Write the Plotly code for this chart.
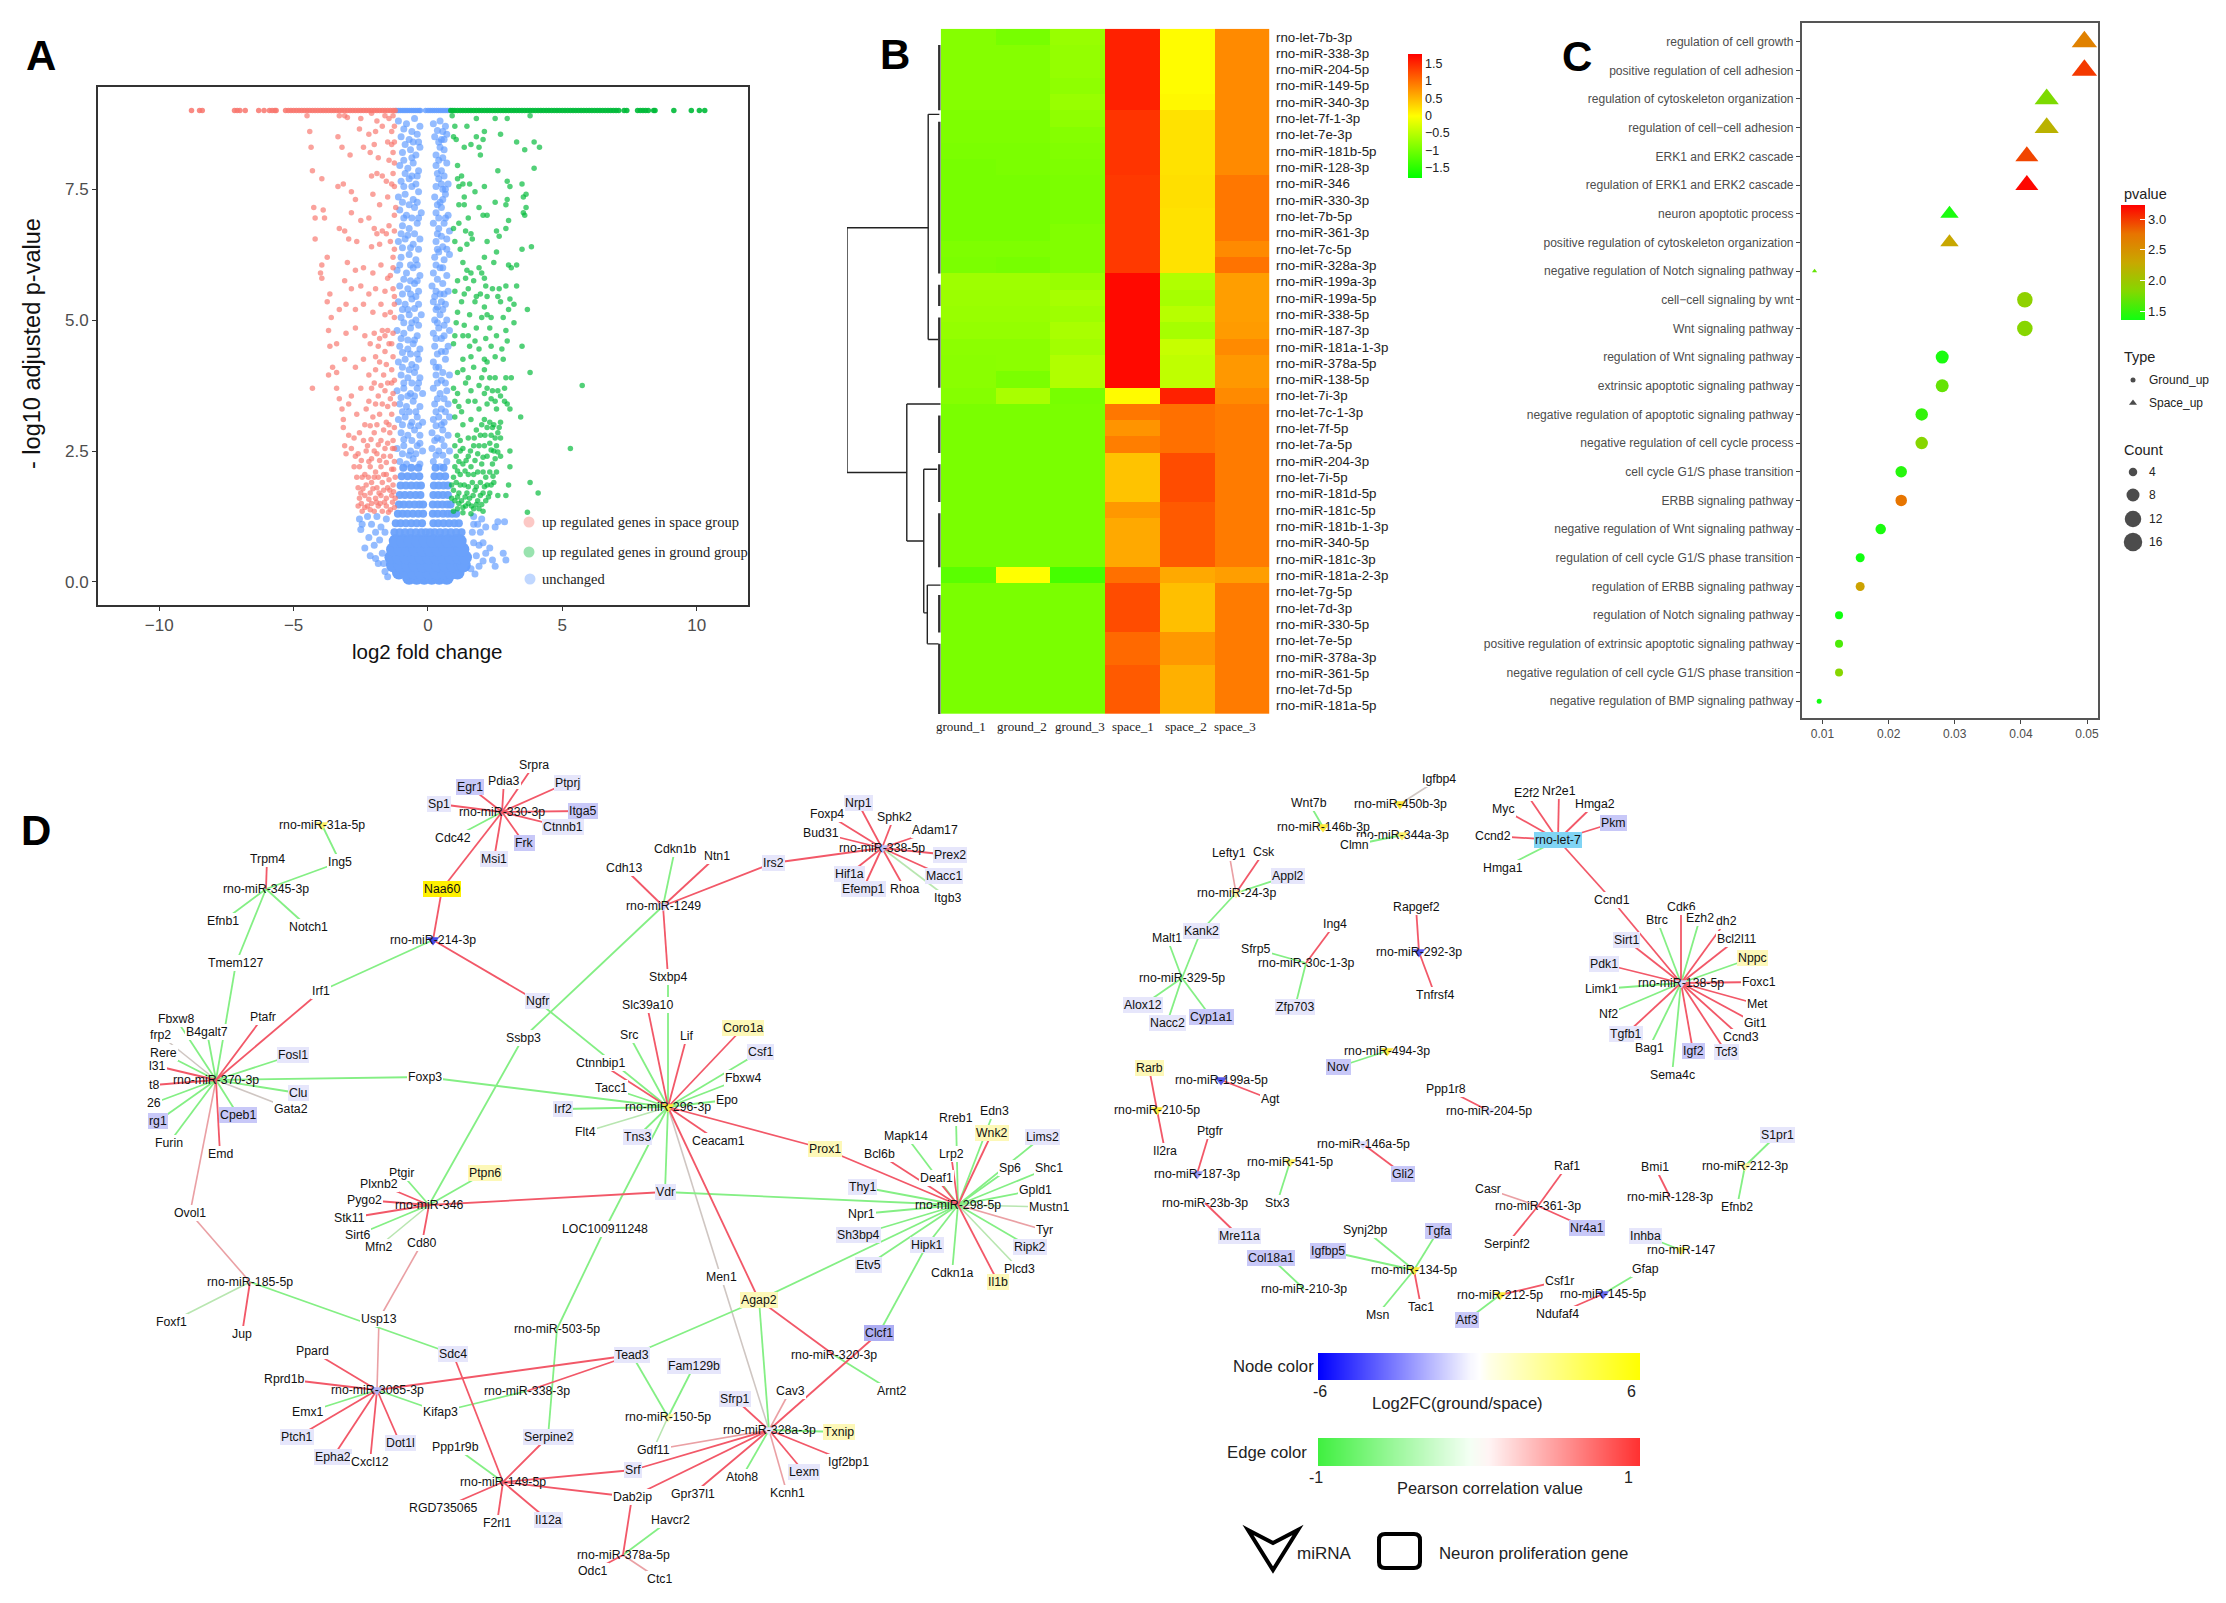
import plotly.graph_objects as go

W, H = 2226, 1603

# ---------- Panel A: volcano ----------
top_space_x = [-8.8,-8.5,-8.4,-7.2,-7.1,-7.0,-6.8,-6.3,-6.1,-5.9,-5.8,-5.7,-5.65,-5.3,-5.2,-5.1,-5.0,-4.9,-4.8,-4.7,-4.6,-4.5,-4.4,-4.3,-4.2,-4.1,-4.0,-3.9,-3.8,-3.7,-3.6,-3.5,-3.4,-3.3,-3.2,-3.1,-3.0,-2.9,-2.8,-2.7,-2.6,-2.5,-2.4,-2.3,-2.2,-2.1,-2.0,-1.9,-1.8,-1.7,-1.6,-1.5,-1.4,-1.3,-1.22]
top_ground_x = [0.85,0.92,1.0,1.1,1.2,1.3,1.4,1.5,1.6,1.7,1.8,1.9,2.0,2.1,2.2,2.3,2.4,2.5,2.6,2.7,2.8,2.9,3.0,3.1,3.2,3.3,3.4,3.5,3.6,3.7,3.8,3.9,4.0,4.1,4.2,4.3,4.4,4.5,4.6,4.7,4.8,4.9,5.0,5.1,5.2,5.3,5.4,5.5,5.6,5.7,5.8,5.9,6.0,6.1,6.2,6.3,6.4,6.5,6.6,6.7,6.8,6.9,7.0,7.1,7.3,7.4,7.8,7.9,8.0,8.1,8.2,8.4,8.45,9.15,9.8,10.1,10.3]
top_unch_x = [-1.17,-1.1,-1.03,-0.96,-0.89,-0.82,-0.75,-0.68,-0.61,-0.54,-0.47,-0.4,-0.33,-0.28,-0.09,0.0,0.08,0.16,0.24,0.32,0.4,0.48,0.56,0.64,0.72,0.8]
top_y = 9.0

space_pts = [
(-4.5,8.9),(-3.3,8.9),(-3.1,8.9),(-3.0,8.87),(-2.5,8.85),(-2.1,8.95),(-1.9,8.8),(-1.6,8.9),(-1.45,8.85),(-1.3,8.9),(-1.25,8.7),(-2.55,8.65),(-2.2,8.55),(-1.95,8.6),(-1.7,8.7),(-1.35,8.6),
(-4.4,8.6),(-4.35,8.3),(-3.35,8.5),(-3.2,8.3),(-2.9,8.15),(-2.4,8.3),(-2.15,8.2),(-2.0,8.35),(-1.85,8.1),(-1.5,8.4),(-1.35,8.35),(-1.3,8.2),(-1.45,8.05),(-1.25,8.0),
(-4.3,7.85),(-3.95,7.7),(-3.35,7.55),(-3.15,7.6),(-2.1,7.75),(-1.9,7.8),(-1.7,7.75),(-1.55,7.65),(-1.3,7.8),(-1.25,7.55),(-2.85,7.45),(-2.7,7.3),(-2.05,7.4),(-1.8,7.2),(-1.5,7.35),(-1.2,7.15),
(-4.25,7.15),(-3.9,7.1),(-4.2,6.95),(-3.85,6.95),(-3.3,6.75),(-3.1,6.7),(-2.85,7.05),(-2.5,6.9),(-2.2,6.95),(-2.0,6.75),(-1.9,6.65),(-1.7,6.7),(-1.55,6.65),(-1.25,6.7),
(-4.2,6.55),(-2.95,6.55),(-2.65,6.5),(-2.1,6.4),(-1.8,6.45),(-1.4,6.5),(-1.25,6.35),
(-3.75,6.2),(-3.95,6.05),(-4.0,5.9),(-3.95,5.8),(-3.0,6.1),(-2.7,5.95),(-2.4,6.0),(-2.05,5.9),(-1.75,6.05),(-1.4,5.85),(-1.3,6.0),
(-3.1,5.75),(-2.85,5.6),(-2.5,5.65),(-2.2,5.5),(-1.95,5.6),(-1.6,5.55),(-1.3,5.6),(-1.25,5.45),
(-3.65,5.5),(-3.75,5.35),(-3.6,5.05),(-3.3,5.2),(-3.05,5.3),(-2.7,5.2),(-2.4,5.3),(-2.05,5.15),(-1.75,5.3),(-1.4,5.15),(-1.25,5.05),
(-3.7,4.8),(-3.65,4.5),(-3.4,4.55),(-3.05,4.75),(-2.7,4.85),(-2.35,4.7),(-2.0,4.75),(-1.7,4.8),(-1.5,4.8),(-1.3,4.75),(-2.15,4.55),(-1.85,4.5),(-1.6,4.4),(-1.45,4.55),
(-3.55,4.1),(-3.4,4.0),(-3.7,3.95),(-3.1,4.25),(-2.7,4.1),(-2.4,4.25),(-2.2,3.95),(-1.95,4.05),(-1.65,3.95),(-1.35,4.05),(-1.25,3.85),(-1.5,3.8),
(-4.3,3.7),(-3.4,3.7),(-3.3,3.5),(-2.85,3.55),(-2.5,3.7),(-2.1,3.7),(-1.85,3.55),(-1.6,3.65),(-1.4,3.5),(-1.25,3.4),
(-3.2,3.3),(-3.15,3.1),(-2.95,3.4),(-2.65,3.2),(-2.3,3.3),(-2.05,3.15),(-1.8,3.2),(-1.55,3.05),(-1.35,3.2),(-1.25,2.95),
(-3.15,2.95),(-2.95,2.8),(-3.1,2.6),(-2.75,2.75),(-2.55,2.85),(-2.25,2.6),(-2.0,2.85),(-1.75,2.7),(-1.5,2.65),(-1.3,2.7),
(-3.05,2.45),(-2.85,2.55),(-2.6,2.45),(-2.3,2.5),(-2.1,2.35),(-1.9,2.45),(-1.65,2.4),(-1.4,2.4),(-1.25,2.3),
(-2.75,2.2),(-2.55,2.2),(-2.35,2.05),(-2.15,2.2),(-1.95,2.1),(-1.75,2.2),(-1.55,2.05),(-1.35,2.15),(-1.22,2.0),(-2.65,2.0),
(-2.6,1.8),(-2.5,1.7),(-2.3,1.85),(-2.1,1.9),(-1.9,1.8),(-1.7,1.9),(-1.5,1.8),(-1.3,1.85),(-2.55,1.6),(-2.35,1.65),(-2.15,1.7),(-1.95,1.6),(-1.75,1.65),(-1.55,1.6),(-1.35,1.65),(-1.22,1.6),
(-2.6,1.45),(-2.45,1.35),(-2.25,1.45),(-2.1,1.5),(-2.0,1.35),(-1.85,1.45),(-1.7,1.35),(-1.55,1.45),(-1.4,1.38),(-1.25,1.42),
(-2.48,1.5),(-2.35,1.42),(-2.15,1.38),(-1.92,1.52),(-1.78,1.5),(-1.62,1.52),(-1.47,1.33),(-1.32,1.52),(-2.42,1.78),(-2.2,1.58),(-2.05,1.78),(-1.82,1.7),(-1.65,1.75),(-1.42,1.75),(-1.28,1.72),(-2.45,2.0),(-2.22,2.0),(-2.0,2.0),(-1.85,2.0),(-1.65,2.05),(-1.45,1.95),(-1.28,2.15),
(-2.48,2.32),(-2.2,2.3),(-2.0,2.5),(-1.8,2.32),(-1.55,2.28),(-1.32,2.55),(-2.7,2.4),(-2.4,2.7),(-2.12,2.72),(-1.85,2.62),(-1.6,2.55),(-1.42,2.85),(-1.25,2.55),(-2.35,3.0),(-2.15,2.98),(-1.9,3.0),(-1.65,2.9),(-1.45,3.0),
(-2.2,3.45),(-1.95,3.4),(-1.7,3.4),(-1.5,3.35),(-1.3,3.6),(-2.0,3.8),(-1.75,3.75),(-1.35,3.8),(-1.55,4.15),(-1.8,4.2),(-1.3,4.3),(-1.95,4.3),(-1.6,4.7),(-1.8,4.65),(-1.35,4.55),(-1.6,5.1),(-1.25,5.3),(-1.5,5.8),(-1.3,6.2),(-1.45,6.8),(-1.25,7.0),(-1.35,7.6),(-1.25,8.4),
]
ground_pts = [
(0.9,8.9),(1.8,8.85),(2.5,8.85),(2.95,8.85),(3.8,8.9),(1.0,8.7),(0.95,8.5),(1.45,8.7),(2.1,8.6),(2.7,8.55),(1.05,8.45),(1.8,8.5),(2.05,8.45),(3.3,8.4),
(3.95,8.4),(4.15,8.3),(1.35,8.3),(1.6,8.35),(1.9,8.3),(1.95,8.15),(3.6,8.25),(3.95,7.9),(1.1,7.95),(1.1,7.7),(1.25,7.75),(2.6,7.85),(2.95,7.65),(1.3,7.6),(1.15,7.55),(1.55,7.6),(2.1,7.55),
(3.05,7.55),(3.5,7.6),(1.35,7.35),(1.75,7.45),(2.5,7.25),(2.95,7.3),(3.55,7.35),(3.65,7.4),(1.15,7.2),(1.35,7.2),(1.9,7.15),(2.9,7.2),(3.65,7.15),
(1.5,6.95),(2.05,7.0),(2.2,7.0),(3.0,6.9),(3.55,7.05),(3.6,7.0),(0.95,6.75),(1.15,6.85),(1.4,6.7),(1.6,6.65),(2.55,6.7),(2.9,6.75),(1.0,6.5),(1.45,6.45),(1.65,6.55),(2.2,6.5),(2.65,6.6),
(3.5,6.35),(3.85,6.4),(1.2,6.35),(2.1,6.2),(2.55,6.3),(3.0,6.05),(3.1,6.0),(3.3,6.05),(1.3,6.1),(1.45,5.95),(1.9,6.0),(2.0,5.9),(2.45,6.1),(1.1,5.75),(1.4,5.8),(1.7,5.75),(2.1,5.8),(2.15,5.65),
(1.0,5.55),(1.5,5.6),(1.95,5.5),(2.2,5.45),(2.65,5.6),(2.9,5.65),(3.3,5.65),(1.25,5.35),(1.75,5.35),(2.1,5.25),(2.6,5.45),(3.05,5.4),(3.2,5.3),(1.1,5.15),(1.55,5.1),(2.2,5.1),(2.35,5.05),(3.0,5.2),(3.7,5.2),
(1.05,4.95),(1.35,4.9),(1.8,4.85),(2.3,4.85),(2.8,5.05),(3.2,4.95),(1.0,4.7),(1.5,4.7),(2.15,4.65),(2.55,4.7),(2.9,4.8),(0.95,4.55),(1.55,4.5),(1.9,4.45),(2.35,4.5),(2.75,4.45),(3.5,4.5),
(1.3,4.25),(2.1,4.25),(2.5,4.3),(2.8,4.25),(1.3,4.05),(1.7,4.1),(2.1,4.05),(2.0,3.9),(3.8,4.0),(1.5,3.9),(1.9,3.75),(2.5,3.9),(2.9,3.9),(3.1,3.9),(5.74,3.75),
(0.95,3.7),(1.1,3.6),(1.6,3.65),(2.2,3.7),(2.6,3.65),(2.85,3.7),(1.0,3.45),(1.5,3.45),(2.35,3.5),(2.7,3.55),(2.85,3.45),(2.95,3.4),(1.25,3.25),(1.9,3.3),(2.55,3.3),(3.05,3.3),(3.45,3.15),
(1.0,3.15),(1.6,3.1),(2.1,3.1),(2.3,3.05),(2.7,3.05),(1.3,3.0),(1.8,2.9),(2.2,2.95),(2.45,3.0),(2.6,2.85),(1.1,2.8),(1.5,2.75),(1.95,2.8),(2.35,2.8),(2.7,2.75),(5.3,2.55),
(1.0,2.6),(1.3,2.55),(1.7,2.6),(2.1,2.6),(2.3,2.65),(2.55,2.6),(2.7,2.4),(1.05,2.4),(1.5,2.4),(1.85,2.45),(2.2,2.4),(2.5,2.35),(3.05,2.5),(1.0,2.2),(1.3,2.25),(1.6,2.2),(2.0,2.25),(2.4,2.25),(3.05,2.2),
(0.95,2.0),(1.2,2.05),(1.5,2.05),(1.85,2.1),(2.15,2.0),(2.3,2.1),(2.55,2.1),(1.05,1.9),(1.35,1.85),(1.65,1.9),(1.95,1.9),(2.2,1.85),(2.45,1.9),(3.0,1.85),(3.8,1.9),
(0.95,1.75),(1.15,1.7),(1.45,1.7),(1.75,1.75),(2.05,1.7),(2.3,1.7),(2.9,1.65),(4.1,1.7),(1.0,1.55),(1.25,1.55),(1.55,1.6),(1.85,1.55),(2.15,1.55),(2.6,1.65),(1.1,1.4),(1.4,1.45),(1.7,1.4),(1.9,1.4),(2.05,1.35),(0.95,1.35),(1.3,1.32),(1.6,1.3),(3.7,1.33),
(1.15,1.5),(1.3,1.42),(1.5,1.5),(1.62,1.45),(1.8,1.48),(2.0,1.48),(0.88,1.6),(1.1,1.62),(1.38,1.62),(1.68,1.65),(1.95,1.65),(2.25,1.62),(0.88,1.85),(1.2,1.85),(1.5,1.82),(1.8,1.82),(2.1,1.82),(2.35,1.85),
(1.1,2.12),(1.38,2.12),(1.7,2.05),(2.05,2.1),(2.42,2.02),(1.15,2.3),(1.42,2.32),(1.75,2.32),(2.05,2.38),(2.35,2.52),(1.2,2.5),(1.58,2.5),(1.9,2.6),(2.45,2.5),(2.6,2.48),(1.2,2.7),(1.72,2.75),(2.12,2.8),(2.5,2.75),(2.4,2.95),(2.65,2.95),(2.0,3.0),
(1.15,3.35),(1.75,3.45),(2.2,3.4),(2.5,3.45),(2.1,3.6),(2.4,3.65),(1.4,3.8),(2.3,3.9),(1.1,4.0),(2.2,4.2),(1.6,4.3),(2.95,4.6),(1.75,4.6),(1.3,4.7),(2.0,5.05),(1.35,5.5),(1.8,5.45),(2.4,5.6),(1.6,5.9),(2.7,5.35),
]
unch_pts = [
(-1.1,8.8),(-0.8,8.75),(-0.5,8.85),(-0.3,8.7),(0.2,8.75),(0.45,8.8),(0.65,8.7),(-1.0,8.5),(-0.7,8.45),(-0.4,8.55),(0.25,8.5),(0.5,8.45),(0.7,8.55),
(-0.95,8.2),(-0.65,8.25),(-0.45,8.15),(-0.3,8.3),(0.3,8.15),(0.45,8.3),(0.6,8.25),(-1.05,7.95),(-0.75,7.9),(-0.55,8.0),(-0.35,7.85),(0.3,7.95),(0.5,7.85),(0.7,8.0),
(-1.0,7.65),(-0.7,7.7),(-0.45,7.6),(0.3,7.55),(0.4,7.7),(0.55,7.5),(0.75,7.6),(-1.1,7.35),(-0.85,7.4),(-0.55,7.3),(-0.35,7.45),(0.25,7.35),(0.45,7.25),(0.65,7.4),
(-1.05,7.1),(-0.8,7.0),(-0.5,7.15),(-0.25,7.05),(0.3,7.05),(0.5,7.15),(0.75,7.0),(-0.95,6.8),(-0.7,6.75),(-0.4,6.85),(0.2,6.85),(0.4,6.75),(0.6,6.85),(0.8,6.7),
(-1.1,6.5),(-0.85,6.55),(-0.55,6.45),(-0.3,6.55),(0.3,6.5),(0.55,6.4),(0.7,6.55),(-1.0,6.2),(-0.7,6.25),(-0.45,6.15),(0.25,6.2),(0.4,6.3),(0.6,6.15),(0.8,6.25),
(-1.15,5.95),(-0.8,5.9),(-0.55,6.0),(-0.3,5.85),(0.2,5.9),(0.45,6.0),(0.7,5.85),(-1.05,5.65),(-0.75,5.6),(-0.5,5.7),(-0.35,5.55),(0.15,5.65),(0.3,5.55),(0.55,5.7),(0.75,5.55),
(-1.1,5.35),(-0.85,5.3),(-0.6,5.4),(-0.35,5.3),(0.2,5.35),(0.35,5.25),(0.5,5.35),(0.65,5.3),(-1.0,5.05),(-0.7,5.1),(-0.45,5.0),(-0.25,5.1),(0.25,5.0),(0.45,5.1),(0.7,5.0),
(-1.15,4.8),(-0.9,4.75),(-0.65,4.85),(-0.4,4.7),(0.2,4.75),(0.4,4.85),(0.6,4.7),(0.8,4.8),(-1.05,4.5),(-0.75,4.45),(-0.55,4.55),(-0.3,4.45),(0.25,4.5),(0.5,4.4),(0.75,4.5),
(-1.1,4.2),(-0.85,4.25),(-0.6,4.15),(-0.35,4.25),(0.2,4.2),(0.4,4.1),(0.65,4.25),(-1.0,3.95),(-0.75,3.9),(-0.5,4.0),(-0.3,3.9),(0.3,3.95),(0.5,3.85),(0.8,3.95),
(-1.15,3.65),(-0.9,3.7),(-0.65,3.6),(-0.4,3.7),(-0.2,3.6),(0.2,3.7),(0.45,3.6),(0.7,3.65),(-1.05,3.4),(-0.8,3.35),(-0.55,3.45),(-0.3,3.35),(0.25,3.4),(0.5,3.3),(0.75,3.4),
(-1.1,3.1),(-0.85,3.15),(-0.6,3.05),(-0.4,3.15),(-0.2,3.05),(0.2,3.1),(0.4,3.15),(0.6,3.05),(0.8,3.15),(-1.0,2.85),(-0.75,2.8),(-0.5,2.9),(-0.3,2.8),(0.15,2.85),(0.35,2.75),(0.55,2.9),(0.75,2.8),
(-1.15,2.55),(-0.9,2.6),(-0.65,2.5),(-0.4,2.6),(-0.2,2.5),(0.15,2.55),(0.4,2.5),(0.6,2.6),(0.8,2.5),(-1.05,2.3),(-0.8,2.25),(-0.55,2.35),(-0.3,2.25),(0.2,2.3),(0.45,2.2),(0.7,2.3),
(-0.9,8.65),(-0.6,8.6),(-0.35,8.4),(0.35,8.62),(0.55,8.6),(0.4,8.4),(-0.85,8.35),(-0.55,8.4),(0.6,8.45),(-0.9,8.05),(-0.6,8.1),(0.4,8.05),(0.55,8.1),(-0.85,7.8),(-0.6,7.75),(-0.4,7.75),(0.35,7.8),(0.6,7.75),
(-0.9,7.55),(-0.6,7.55),(0.5,7.6),(0.65,7.5),(-0.95,7.25),(-0.7,7.2),(-0.4,7.25),(0.35,7.2),(0.55,7.3),(-0.9,6.95),(-0.6,6.95),(-0.35,6.95),(0.4,6.95),(0.65,6.95),(-1.0,6.65),(-0.75,6.62),(-0.5,6.65),(0.35,6.65),(0.5,6.6),
(-0.95,6.38),(-0.65,6.38),(-0.35,6.35),(0.35,6.35),(0.7,6.35),(-1.05,6.05),(-0.65,6.05),(-0.4,6.05),(0.3,6.05),(0.55,6.0),(-0.9,5.78),(-0.65,5.75),(-0.4,5.75),(0.35,5.78),(0.45,5.5),(-0.95,5.5),(-0.65,5.5),(-0.45,5.45),(0.25,5.45),(0.6,5.5),
(-0.95,5.2),(-0.75,5.2),(-0.5,5.22),(0.3,5.2),(0.55,5.2),(-0.9,4.95),(-0.6,4.95),(-0.35,4.9),(0.35,4.95),(0.6,4.9),(-1.0,4.65),(-0.75,4.62),(-0.5,4.62),(0.3,4.65),(0.5,4.65),(-0.95,4.38),(-0.65,4.35),(-0.4,4.35),(0.35,4.35),(0.65,4.4),
(-0.95,4.1),(-0.7,4.05),(-0.45,4.1),(0.3,4.1),(0.55,4.0),(-0.9,3.8),(-0.6,3.8),(-0.35,3.8),(0.35,3.8),(0.65,3.8),(-1.0,3.52),(-0.75,3.55),(-0.5,3.55),(0.35,3.5),(0.6,3.5),(-0.95,3.25),(-0.7,3.25),(-0.45,3.25),(0.3,3.25),(0.65,3.25),
(-0.95,3.0),(-0.65,2.98),(-0.35,2.98),(0.3,2.98),(0.5,3.0),(-0.9,2.72),(-0.6,2.7),(-0.3,2.65),(0.25,2.7),(0.5,2.72),(-0.95,2.45),(-0.7,2.42),(-0.45,2.45),(0.3,2.42),(0.55,2.42),
(-2.55,1.2),(-2.45,1.1),(-2.5,1.0),(-2.2,0.85),(-2.35,0.65),(-2.0,0.7),(-1.9,1.25),(-1.75,1.05),(-1.7,0.55),(-1.95,0.45),(-1.85,0.35),
(2.0,1.2),(2.15,1.05),(1.95,0.95),(2.5,1.05),(2.6,1.15),(2.85,1.15),(2.8,0.55),(2.4,0.42),(2.9,0.42),(2.5,0.3),(2.3,0.65),(2.15,0.55),(2.05,0.75),(1.9,0.3),(1.75,0.15),(1.8,0.5),(-1.6,0.2),(-1.5,0.1),
(-2.25,1.25),(-2.1,1.1),(-1.95,0.95),(-1.8,0.8),(-2.15,0.5),(-1.6,0.95),(-1.55,1.2),(-1.65,0.35),(1.7,1.25),(1.85,1.1),(1.65,0.95),(1.9,0.7),(1.7,0.75),(2.05,0.4),(1.6,0.25),(1.7,1.1),
]
core_pts = [
(-0.7,0.08),(-0.42,0.08),(-0.14,0.08),(0.14,0.08),(0.42,0.08),(0.7,0.08),
(-1.08,0.18),(-0.8,0.18),(-0.52,0.18),(-0.24,0.18),(0.04,0.18),(0.32,0.18),(0.6,0.18),(0.88,0.18),(1.1,0.18),
(-1.3,0.32),(-1.02,0.32),(-0.74,0.32),(-0.46,0.32),(-0.18,0.32),(0.1,0.32),(0.38,0.32),(0.66,0.32),(0.94,0.32),(1.22,0.32),(1.33,0.32),
(-1.36,0.47),(-1.08,0.47),(-0.8,0.47),(-0.52,0.47),(-0.24,0.47),(0.04,0.47),(0.32,0.47),(0.6,0.47),(0.88,0.47),(1.16,0.47),(1.38,0.47),
(-1.3,0.62),(-1.02,0.62),(-0.74,0.62),(-0.46,0.62),(-0.18,0.62),(0.1,0.62),(0.38,0.62),(0.66,0.62),(0.94,0.62),(1.22,0.62),(1.28,0.62),
(-1.2,0.78),(-0.92,0.78),(-0.64,0.78),(-0.36,0.78),(-0.08,0.78),(0.2,0.78),(0.48,0.78),(0.76,0.78),(1.04,0.78),(1.18,0.78),
]
core_upper_pts = [
(-1.25,0.95),(-1.05,0.95),(-0.85,0.95),(-0.65,0.95),(-0.45,0.95),(-0.25,0.95),(-0.08,0.95),(0.08,0.95),(0.25,0.95),(0.45,0.95),(0.65,0.95),(0.85,0.95),(1.05,0.95),(1.25,0.95),
(-1.2,1.12),(-1.02,1.12),(-0.82,1.12),(-0.62,1.12),(-0.42,1.12),(-0.22,1.12),(0.2,1.12),(0.38,1.12),(0.58,1.12),(0.78,1.12),(0.98,1.12),(1.15,1.12),
(-1.12,1.3),(-0.94,1.3),(-0.76,1.3),(-0.56,1.3),(-0.36,1.3),(-0.18,1.3),(0.18,1.3),(0.36,1.3),(0.56,1.3),(0.74,1.3),(0.9,1.3),(1.05,1.3),
(-1.08,1.48),(-0.9,1.48),(-0.7,1.48),(-0.5,1.48),(-0.32,1.48),(-0.18,1.48),(0.18,1.48),(0.36,1.48),(0.54,1.48),(0.72,1.48),(0.84,1.48),
(-1.05,1.66),(-0.86,1.66),(-0.66,1.66),(-0.46,1.66),(-0.28,1.66),(0.2,1.66),(0.38,1.66),(0.56,1.66),(0.74,1.66),
(-1.02,1.84),(-0.82,1.84),(-0.62,1.84),(-0.42,1.84),(-0.26,1.84),(0.22,1.84),(0.4,1.84),(0.58,1.84),(0.74,1.84),
(-0.98,2.02),(-0.76,2.02),(-0.54,2.02),(-0.32,2.02),(0.24,2.02),(0.44,2.02),(0.64,2.02),
(-0.92,2.18),(-0.62,2.18),(-0.36,2.18),(0.28,2.18),(0.58,2.18),
]
legend_volcano = ["up regulated genes in space group", "up regulated genes in ground group", "unchanged"]

# ---------- Panel B: heatmap ----------
mirnas = ["rno-let-7b-3p","rno-miR-338-3p","rno-miR-204-5p","rno-miR-149-5p","rno-miR-340-3p","rno-let-7f-1-3p","rno-let-7e-3p","rno-miR-181b-5p","rno-miR-128-3p","rno-miR-346","rno-miR-330-3p","rno-let-7b-5p","rno-miR-361-3p","rno-let-7c-5p","rno-miR-328a-3p","rno-miR-199a-3p","rno-miR-199a-5p","rno-miR-338-5p","rno-miR-187-3p","rno-miR-181a-1-3p","rno-miR-378a-5p","rno-miR-138-5p","rno-let-7i-3p","rno-let-7c-1-3p","rno-let-7f-5p","rno-let-7a-5p","rno-miR-204-3p","rno-let-7i-5p","rno-miR-181d-5p","rno-miR-181c-5p","rno-miR-181b-1-3p","rno-miR-340-5p","rno-miR-181c-3p","rno-miR-181a-2-3p","rno-let-7g-5p","rno-let-7d-3p","rno-miR-330-5p","rno-let-7e-5p","rno-miR-378a-3p","rno-miR-361-5p","rno-let-7d-5p","rno-miR-181a-5p"]
samples = ["ground_1","ground_2","ground_3","space_1","space_2","space_3"]
expr = [
[-.85,-.95,-.72,1.55,.02,.82],[-.85,-.85,-.75,1.55,.02,.82],[-.85,-.85,-.75,1.55,.02,.82],[-.85,-.85,-.78,1.55,.02,.82],[-.85,-.85,-.72,1.55,.05,.82],
[-.9,-.9,-.78,1.42,.2,.82],[-.9,-.9,-.85,1.42,.2,.82],[-.92,-.92,-.88,1.42,.2,.82],[-.95,-.92,-.9,1.42,.2,.82],[-.95,-.95,-.92,1.38,.22,.95],
[-.95,-.95,-.92,1.38,.22,.95],[-.95,-.95,-.92,1.38,.2,.95],[-.95,-.95,-.88,1.38,.2,.95],[-.9,-.9,-.88,1.38,.2,.82],[-.92,-.95,-.88,1.38,.2,.98],
[-.68,-.68,-.72,1.72,-.55,.68],[-.7,-.7,-.62,1.72,-.62,.68],[-.72,-.72,-.68,1.72,-.5,.68],[-.75,-.75,-.6,1.72,-.62,.7],[-.8,-.8,-.65,1.72,-.4,.82],
[-.82,-.8,-.55,1.72,-.45,.72],[-.82,-.92,-.55,1.72,-.45,.72],[-.85,-.6,-.95,.03,1.55,.82],[-.93,-.93,-.93,.95,1.0,.92],[-.93,-.93,-.93,.75,1.0,.92],
[-.93,-.93,-.93,.9,1.0,.92],[-.93,-.93,-.93,.42,1.25,.92],[-.93,-.93,-.93,.42,1.25,.92],[-.93,-.93,-.93,.42,1.25,.92],[-.93,-.93,-.93,.72,1.15,.92],
[-.93,-.93,-.93,.6,1.15,.92],[-.93,-.93,-.93,.6,1.15,.92],[-.93,-.93,-.93,.6,1.15,.92],[-1.15,.0,-1.3,1.0,.6,.68],[-.93,-.93,-.93,1.25,.45,.92],
[-.93,-.93,-.93,1.25,.45,.92],[-.93,-.93,-.93,1.25,.45,.92],[-.93,-.93,-.93,1.05,.72,.92],[-.93,-.93,-.93,1.05,.72,.92],[-.93,-.93,-.93,1.15,.55,.92],
[-.93,-.93,-.93,1.15,.55,.92],[-.93,-.93,-.93,1.15,.55,.92],
]
heat_ticks = [1.5, 1, 0.5, 0, -0.5, -1, -1.5]
# dendrogram segments: distance from leaves, row from, row to
dendro_v = [(210,11.7,26.7),(28,4.75,18.55),(76,22.5,30.9),(38,26.5,35.3),(30,33.6,37.2)]
dendro_h = [(11.7,210,28),(26.7,210,76),(4.75,28,3),(18.55,28,5),(22.5,76,0),(30.9,76,38),(26.5,38,8),(35.3,38,30),(33.6,30,0),(37.2,30,5)]
dendro_leaf = [(0.5,4.5),(5.2,14.5),(15.2,16.5),(17.2,21.5),(23.2,25.5),(26.2,28.5),(29.2,32.5),(34.2,36.5),(37.2,41.5)]

# ---------- Panel C: enrichment ----------
terms = ["regulation of cell growth","positive regulation of cell adhesion","regulation of cytoskeleton organization","regulation of cell\u2212cell adhesion","ERK1 and ERK2 cascade","regulation of ERK1 and ERK2 cascade","neuron apoptotic process","positive regulation of cytoskeleton organization","negative regulation of Notch signaling pathway","cell\u2212cell signaling by wnt","Wnt signaling pathway","regulation of Wnt signaling pathway","extrinsic apoptotic signaling pathway","negative regulation of apoptotic signaling pathway","negative regulation of cell cycle process","cell cycle G1/S phase transition","ERBB signaling pathway","negative regulation of Wnt signaling pathway","regulation of cell cycle G1/S phase transition","regulation of ERBB signaling pathway","regulation of Notch signaling pathway","positive regulation of extrinsic apoptotic signaling pathway","negative regulation of cell cycle G1/S phase transition","negative regulation of BMP signaling pathway"]
gene_ratio = [.0496,.0496,.0439,.0439,.0409,.0409,.0292,.0292,.0088,.0406,.0406,.0281,.0281,.025,.025,.0219,.0219,.0188,.0157,.0157,.0125,.0125,.0125,.0095]
pvalue = [2.65,3.0,1.8,2.2,2.95,3.2,1.4,2.3,1.7,1.9,1.85,1.4,1.7,1.5,1.85,1.45,2.75,1.4,1.3,2.35,1.35,1.6,1.85,1.35]
count = [16,16,15,15,14,14,10,10,2,13,13,9,9,8,8,7,7,6,5,5,4,4,4,3]
is_space = [1,1,1,1,1,1,1,1,1,0,0,0,0,0,0,0,0,0,0,0,0,0,0,0]
count_legend = [4,8,12,16]
type_legend = ["Ground_up","Space_up"]

# ---------- Panel D: network (layout table of node centres) ----------
nodes = {
"rno-miR-330-3p":(502,812),"Srpra":(534,765),"Pdia3":(504,781),"Egr1":(470,787),"Ptprj":(567,783),"Sp1":(439,804),"Itga5":(583,811),"Ctnnb1":(563,827),"Frk":(524,843),"Msi1":(494,859),"Cdc42":(453,838),"Naa60":(442,889),"rno-miR-214-3p":(433,940),
"rno-miR-31a-5p":(322,825),"Ing5":(340,862),"Trpm4":(267,859),"rno-miR-345-3p":(266,889),"Efnb1":(223,921),"Notch1":(308,927),"Tmem127":(236,963),"Irf1":(321,991),"Ngfr":(537,1001),"Ptafr":(263,1017),"Fbxw8":(176,1019),"B4galt7":(207,1032),"frp2":(160,1035),"Rere":(163,1053),"l31":(157,1066),"t8":(154,1085),"26":(154,1103),"rg1":(158,1121),"Furin":(169,1143),"rno-miR-370-3p":(216,1080),"Fosl1":(293,1055),"Clu":(298,1093),"Gata2":(291,1109),"Cpeb1":(238,1115),"Emd":(220,1154),"Foxp3":(425,1077),"Ssbp3":(523,1038),"Ctnnbip1":(600,1063),"Tacc1":(611,1088),"Irf2":(563,1109),"Flt4":(585,1132),"Tns3":(637,1137),"Src":(629,1035),"Slc39a10":(647,1005),"Cdh13":(624,868),"rno-miR-1249":(663,906),
"Ptgir":(401,1173),"Ptpn6":(485,1173),"Plxnb2":(379,1184),"Pygo2":(364,1200),"rno-miR-346":(429,1205),"Stk11":(349,1218),"Sirt6":(357,1235),"Mfn2":(378,1247),"Cd80":(422,1243),"Ovol1":(190,1213),"rno-miR-185-5p":(250,1282),"Foxf1":(171,1322),"Jup":(242,1334),"Usp13":(379,1319),"Sdc4":(453,1354),"rno-miR-503-5p":(557,1329),"LOC100911248":(605,1229),"Ppard":(312,1351),"Rprd1b":(284,1379),"rno-miR-3065-3p":(377,1390),"Emx1":(308,1412),"Kifap3":(440,1412),"rno-miR-338-3p":(527,1391),"Tead3":(632,1355),"Ptch1":(297,1437),"Epha2":(333,1457),"Cxcl12":(370,1462),"Dot1l":(400,1443),"Ppp1r9b":(455,1447),"Serpine2":(548,1437),"rno-miR-149-5p":(503,1482),"Srf":(633,1470),"Dab2ip":(632,1497),"RGD735065":(443,1508),"F2rl1":(497,1523),"Il12a":(548,1520),"rno-miR-378a-5p":(623,1555),"Odc1":(593,1571),
"Nrp1":(858,803),"Foxp4":(827,814),"Sphk2":(894,817),"Adam17":(935,830),"Bud31":(821,833),"rno-miR-338-5p":(882,848),"Prex2":(950,855),"Hif1a":(849,874),"Macc1":(944,876),"Efemp1":(863,889),"Rhoa":(905,889),"Itgb3":(948,898),"Irs2":(773,863),"Cdkn1b":(675,849),"Ntn1":(717,856),"Stxbp4":(668,977),"Lif":(687,1036),"Coro1a":(743,1028),"Csf1":(760,1052),"Fbxw4":(743,1078),"Epo":(727,1100),"rno-miR-296-3p":(668,1107),"Ceacam1":(718,1141),"Prox1":(825,1149),"Edn3":(994,1111),"Rreb1":(956,1118),"Mapk14":(906,1136),"Wnk2":(992,1133),"Lims2":(1042,1137),"Bcl6b":(879,1154),"Lrp2":(951,1154),"Sp6":(1010,1168),"Shc1":(1049,1168),"Deaf1":(936,1178),"Thy1":(862,1187),"Gpld1":(1035,1190),"Vdr":(665,1192),
"rno-miR-298-5p":(958,1205),"Mustn1":(1049,1207),"Npr1":(861,1214),"Tyr":(1044,1230),"Sh3bp4":(858,1235),"Ripk2":(1030,1247),"Hipk1":(927,1245),"Etv5":(868,1265),"Plcd3":(1019,1269),"Cdkn1a":(952,1273),"Il1b":(998,1282),"Men1":(721,1277),"Agap2":(759,1300),"Clcf1":(879,1333),"rno-miR-320-3p":(834,1355),"Fam129b":(694,1366),"Cav3":(790,1391),"Arnt2":(892,1391),"Sfrp1":(735,1399),"rno-miR-150-5p":(668,1417),"rno-miR-328a-3p":(769,1430),"Txnip":(839,1432),"Gdf11":(653,1450),"Igf2bp1":(848,1462),"Lexm":(804,1472),"Atoh8":(742,1477),"Gpr37l1":(693,1494),"Kcnh1":(787,1493),"Havcr2":(670,1520),"Ctc1":(659,1579),
"Igfbp4":(1439,779),"rno-miR-450b-3p":(1400,804),"Wnt7b":(1309,803),"rno-miR-146b-3p":(1323,827),"rno-miR-344a-3p":(1402,835),"Clmn":(1354,845),"Myc":(1503,809),"E2f2":(1526,793),"Nr2e1":(1559,791),"Hmga2":(1595,804),"Pkm":(1613,823),"rno-let-7":(1558,840),"Ccnd2":(1493,836),"Hmga1":(1503,868),"Ccnd1":(1612,900),"Lefty1":(1229,853),"Csk":(1264,852),"Appl2":(1288,876),"rno-miR-24-3p":(1236,893),"Kank2":(1201,931),"Malt1":(1167,938),"rno-miR-329-5p":(1182,978),"Alox12":(1143,1005),"Nacc2":(1167,1023),"Cyp1a1":(1211,1017),"Ing4":(1335,924),"Sfrp5":(1256,949),"rno-miR-30c-1-3p":(1306,963),"Zfp703":(1295,1007),"Rapgef2":(1416,907),"rno-miR-292-3p":(1419,952),"Tnfrsf4":(1435,995),"rno-miR-494-3p":(1387,1051),"Nov":(1338,1067),"Rarb":(1149,1068),"rno-miR-199a-5p":(1221,1080),"Agt":(1270,1099),"Ppp1r8":(1446,1089),"rno-miR-204-5p":(1489,1111),"rno-miR-210-5p":(1157,1110),"Il2ra":(1165,1151),"Ptgfr":(1210,1131),"rno-miR-187-3p":(1197,1174),"rno-miR-146a-5p":(1363,1144),"Gli2":(1403,1174),"rno-miR-541-5p":(1290,1162),"Raf1":(1567,1166),"Casr":(1488,1189),
"Cdk6":(1681,907),"Btrc":(1657,920),"Ezh2":(1700,918),"dh2":(1726,921),"Bcl2l11":(1737,939),"Sirt1":(1626,940),"Nppc":(1752,958),"Pdk1":(1604,964),"Foxc1":(1759,982),"rno-miR-138-5p":(1681,983),"Limk1":(1601,989),"Nf2":(1608,1014),"Met":(1757,1004),"Git1":(1755,1023),"Tgfb1":(1626,1034),"Ccnd3":(1741,1037),"Bag1":(1649,1048),"Igf2":(1693,1051),"Tcf3":(1726,1052),"Sema4c":(1672,1075),"S1pr1":(1777,1135),"rno-miR-212-3p":(1745,1166),"Bmi1":(1655,1167),"rno-miR-128-3p":(1670,1197),
"rno-miR-23b-3p":(1205,1203),"Stx3":(1277,1203),"rno-miR-361-3p":(1538,1206),"Efnb2":(1737,1207),"Mre11a":(1239,1236),"Synj2bp":(1365,1230),"Tgfa":(1438,1231),"Serpinf2":(1507,1244),"Nr4a1":(1587,1228),"Inhba":(1645,1236),"rno-miR-147":(1681,1250),"Col18a1":(1271,1258),"Igfbp5":(1328,1251),"rno-miR-134-5p":(1414,1270),"Gfap":(1645,1269),"Csf1r":(1559,1281),"rno-miR-210-3p":(1304,1289),"rno-miR-212-5p":(1500,1295),"rno-miR-145-5p":(1603,1294),"Tac1":(1421,1307),"Ndufaf4":(1557,1314),"Msn":(1377,1315),"Atf3":(1467,1320),
}
def M(s):
    return "rno-miR-" + s
pos_edges = {
M("330-3p"):["Srpra","Pdia3","Egr1","Ptprj","Sp1","Itga5","Ctnnb1","Frk","Msi1","Naa60"],
"Naa60":[M("214-3p")], M("214-3p"):["Ngfr"], M("345-3p"):["Trpm4"],
M("370-3p"):["Ptafr","Irf1","Emd","t8","l31"],
M("185-5p"):["Jup"], M("1249"):["Cdh13","Ntn1","Irs2","Stxbp4"], "Irs2":[M("338-5p")],
M("338-5p"):["Nrp1","Foxp4","Sphk2","Adam17","Bud31","Prex2","Hif1a","Macc1","Efemp1","Rhoa"],
M("296-3p"):["Slc39a10","Lif","Coro1a","Ceacam1","Prox1","Ctnnbip1","Agap2"],
"Prox1":[M("298-5p")], "Vdr":[M("346")],
M("298-5p"):["Wnk2","Lrp2","Bcl6b","Deaf1","Il1b"],
"Clcf1":[M("328a-3p")], M("320-3p"):["Agap2"],
"Tead3":[M("3065-3p"),M("338-3p")], "Sdc4":[M("149-5p")], "Serpine2":[M("149-5p")],
M("149-5p"):["Srf","Dab2ip","RGD735065","F2rl1","Il12a"], "Dab2ip":[M("378a-5p")], M("378a-5p"):["Odc1"],
M("328a-3p"):["Srf","Dab2ip","Gpr37l1","Lexm","Igf2bp1","Sfrp1"],
M("3065-3p"):["Ppard","Rprd1b","Ptch1","Epha2","Cxcl12","Dot1l"],
M("346"):["Plxnb2","Pygo2","Stk11","Cd80"],
"rno-let-7":["Myc","E2f2","Nr2e1","Hmga2","Pkm","Ccnd2","Ccnd1"], "Ccnd1":[M("138-5p")],
M("138-5p"):["Cdk6","dh2","Bcl2l11","Sirt1","Pdk1","Foxc1","Met","Git1","Tgfb1","Ccnd3","Igf2","Tcf3"],
M("24-3p"):["Csk"], M("30c-1-3p"):["Ing4"], M("292-3p"):["Rapgef2","Tnfrsf4"], M("199a-5p"):["Agt"], M("204-5p"):["Ppp1r8"],
M("210-5p"):["Rarb","Il2ra"], M("187-3p"):["Ptgfr"], M("146a-5p"):["Gli2"], M("23b-3p"):["Mre11a"],
M("361-3p"):["Raf1","Serpinf2","Nr4a1"], M("128-3p"):["Bmi1"], M("134-5p"):["Tac1"], M("212-5p"):["Csf1r"], M("145-5p"):["Ndufaf4"],
}
neg_edges = {
M("330-3p"):["Cdc42"], M("214-3p"):["Irf1"], "Ngfr":[M("296-3p")], M("31a-5p"):["Ing5"], "Ing5":[M("345-3p")],
M("345-3p"):["Efnb1","Notch1","Tmem127"], "Tmem127":[M("370-3p")],
M("370-3p"):["Fosl1","Foxp3","Clu","Cpeb1","Furin","rg1","26","Rere","B4galt7","Fbxw8"],
M("185-5p"):["Sdc4"], "Foxp3":[M("296-3p")], "Ssbp3":[M("1249"),M("346")], M("1249"):["Cdkn1b"], "Stxbp4":[M("296-3p")],
M("296-3p"):["Src","Csf1","Fbxw4","Epo","Vdr","Tns3","LOC100911248","Irf2","Tacc1"], "LOC100911248":[M("503-5p")],
"Vdr":[M("298-5p")],
M("298-5p"):["Rreb1","Edn3","Mapk14","Thy1","Lims2","Sp6","Shc1","Gpld1","Npr1","Sh3bp4","Ripk2","Cdkn1a","Hipk1","Etv5","Agap2"],
"Hipk1":["Clcf1"], M("320-3p"):["Arnt2"], "Agap2":[M("328a-3p"),"Tead3"], "Tead3":[M("150-5p")], M("503-5p"):["Serpine2"],
"Kifap3":[M("338-3p"),M("3065-3p")], "Ppp1r9b":[M("149-5p")], "Havcr2":[M("378a-5p")], M("150-5p"):["Fam129b"],
M("328a-3p"):["Atoh8","Txnip"], M("3065-3p"):["Emx1"], M("346"):["Ptgir","Sirt6","Ptpn6"],
M("146b-3p"):["Wnt7b"], M("344a-3p"):["Clmn"], "rno-let-7":["Hmga1"],
M("138-5p"):["Btrc","Ezh2","Nppc","Limk1","Nf2","Bag1","Sema4c"],
M("24-3p"):["Appl2","Kank2"], "Kank2":[M("329-5p")], M("329-5p"):["Malt1","Alox12","Nacc2","Cyp1a1"],
M("30c-1-3p"):["Sfrp5","Zfp703"], M("494-3p"):["Nov"], M("541-5p"):["Stx3"], M("212-3p"):["S1pr1","Efnb2"], "Inhba":[M("147")],
M("210-3p"):["Col18a1"], M("134-5p"):["Synj2bp","Tgfa","Igfbp5","Msn"], M("212-5p"):["Atf3"], M("145-5p"):["Gfap"],
}
weak_pos_edges = {M("370-3p"):["Ovol1"], "Ovol1":[M("185-5p")], "Cd80":["Usp13"], "Usp13":[M("3065-3p")], M("298-5p"):["Tyr"], M("378a-5p"):["Ctc1"], M("328a-3p"):["Gdf11","Kcnh1","Cav3"], M("24-3p"):["Lefty1"], M("361-3p"):["Casr"]}
weak_neg_edges = {M("185-5p"):["Foxf1"], M("296-3p"):["Flt4"], M("338-5p"):["Itgb3"], M("298-5p"):["Mustn1","Plcd3"], M("150-5p"):["Gdf11"], M("346"):["Mfn2"]}
grey_edges = {M("370-3p"):["Gata2","frp2"], "Men1":[M("296-3p"),M("328a-3p")], M("450b-3p"):["Igfbp4"]}

blue_mirna = {"214-3p":"#4a4ae8","292-3p":"#5a5aea","199a-5p":"#5a5aea","145-5p":"#6a6aee","187-3p":"#9a9af2","3065-3p":"#b0b0f6","338-5p":"#c0c0f6","146a-5p":"#dcdcfa","138-5p":"#d8d8fa","328a-3p":"#e6e6fc","1249":"#d0d0f8","204-5p":"#e0e0fb"}
yellow_mirna = {"31a-5p":"#fdf26a","146b-3p":"#fde93a","450b-3p":"#fde93a","344a-3p":"#fdf26a","494-3p":"#fde93a","210-5p":"#fde93a","541-5p":"#fdf26a","134-5p":"#fde93a","212-5p":"#fde93a","147":"#fdf26a","296-3p":"#fde93a","212-3p":"#fdf6a0","150-5p":"#fdf6a0","24-3p":"#fdf6a0"}
gene_strong = ["Egr1","Itga5","Frk","Cpeb1","Nov","Gli2","Tgfa","Igfbp5","Col18a1","Nr4a1","Atf3","Igf2","Cyp1a1","Pkm","rg1"]
gene_mid = ["Ptprj","Sp1","Msi1","Fosl1","Clu","Tns3","Irf2","Sdc4","Ptch1","Dot1l","Il12a","Serpine2","Sfrp1","Lexm","Fam129b","Thy1","Etv5","Sh3bp4","Hipk1","Lims2","Ripk2","Prex2","Efemp1","Nrp1","Irs2","Appl2","Kank2","Zfp703","Alox12","Nacc2","Pdk1","Sirt1","S1pr1","Mre11a","Inhba","Tead3","Srf","Ngfr","Ctnnb1","Tcf3","Tgfb1","Epha2","Csf1","Hif1a","Vdr","Macc1"]
gene_yellow = ["Coro1a","Ptpn6","Il1b","Nppc","Rarb","Txnip","Agap2","Wnk2","Prox1"]
node_scale = [-6,-5,-4,-3,-2,-1,-0.6,-0.3,0,0.3,0.6,1,2,3,4,5,6]
edge_scale = [-1,-0.85,-0.7,-0.55,-0.4,-0.25,-0.12,-0.05,0,0.05,0.12,0.25,0.4,0.55,0.7,0.85,1]

# ---------- build ----------
def dx(a, b): return [a / W, b / W]
def dy(t, b): return [1 - b / H, 1 - t / H]

fig = go.Figure()
FONT = "Liberation Sans"
C_RED, C_GREEN, C_BLUE = "#f8766d", "#00ba38", "#619cff"

def split(pts):
    return [p[0] for p in pts], [p[1] for p in pts]

for xs, ys, col, sz, op in [
    (*split(core_pts), "#6aa1fb", 14, 1),
    (*split(core_upper_pts), "#6aa1fb", 8, .95),
    (*split(unch_pts), C_BLUE, 7, .68),
    (top_unch_x, [top_y] * len(top_unch_x), C_BLUE, 5.5, .8),
    (*split(space_pts), C_RED, 5.5, .68),
    (top_space_x, [top_y] * len(top_space_x), C_RED, 5.5, .85),
    (*split(ground_pts), C_GREEN, 5.5, .68),
    (top_ground_x, [top_y] * len(top_ground_x), C_GREEN, 5.5, .9),
]:
    fig.add_trace(go.Scatter(x=xs, y=ys, mode="markers", marker=dict(size=sz, color=col, opacity=op, line_width=0),
                             showlegend=False, xaxis="x", yaxis="y"))

fig.add_trace(go.Heatmap(z=expr, x=samples, y=mirnas, xaxis="x2", yaxis="y2", xgap=0, ygap=0, zmin=-1.78, zmax=1.78,
    colorscale=[[0, "#00ff00"], [.5, "#ffff00"], [1, "#ff0000"]],
    colorbar=dict(x=1408 / W, xanchor="left", y=1 - 53.6 / H, yanchor="top", lenmode="pixels", len=124, thickness=14,
                  thicknessmode="pixels", outlinewidth=0, xpad=0, ypad=0, ticks="", tickvals=heat_ticks,
                  ticktext=["1.5", "1", "0.5", "0", "\u22120.5", "\u22121", "\u22121.5"], tickfont=dict(size=12.5, color="#222"))))

dend_x, dend_y = [], []
for d, r0, r1 in dendro_v:
    dend_x += [d, d, None]; dend_y += [r0, r1, None]
for r, d0, d1 in dendro_h:
    dend_x += [d0, d1, None]; dend_y += [r, r, None]
fig.add_trace(go.Scatter(x=dend_x, y=dend_y, mode="lines", line=dict(color="#222", width=1.4), xaxis="x3", yaxis="y3", showlegend=False, cliponaxis=False))
leaf_x, leaf_y = [], []
for r0, r1 in dendro_leaf:
    leaf_x += [3, 3, None]; leaf_y += [r0, r1, None]
fig.add_trace(go.Scatter(x=leaf_x, y=leaf_y, mode="lines", line=dict(color="#333", width=2.6), xaxis="x3", yaxis="y3", showlegend=False, cliponaxis=False))

def csize(c):
    table = {2: 4.5, 3: 5, 4: 8, 5: 9, 6: 10.5, 7: 11.5, 8: 12.5, 9: 13, 10: 16, 13: 15.5, 14: 20, 15: 21, 16: 22}
    return table[c]

fig.add_trace(go.Scatter(x=gene_ratio, y=terms, mode="markers", xaxis="x4", yaxis="y4", showlegend=False, cliponaxis=False,
    marker=dict(symbol=["triangle-up" if s else "circle" for s in is_space], size=[csize(c) for c in count], color=pvalue,
                cmin=1.36, cmax=3.23, opacity=1, line_width=0,
                colorscale=[[0, "#10ff10"], [.25, "#84d800"], [.5, "#c8a800"], [.75, "#e87400"], [1, "#ff0000"]],
                colorbar=dict(x=2121 / W, xanchor="left", y=1 - 205 / H, yanchor="top", lenmode="pixels", len=115, thickness=24,
                              thicknessmode="pixels", outlinewidth=0, xpad=0, ypad=0, ticks="inside", ticklen=5, tickcolor="white",
                              tickvals=[1.5, 2.0, 2.5, 3.0], ticktext=["1.5", "2.0", "2.5", "3.0"], tickfont=dict(size=13, color="#222")))))

fig.add_trace(go.Heatmap(z=[node_scale], x=node_scale, xaxis="x5", yaxis="y5", showscale=False, zmin=-6, zmax=6, zsmooth="best",
    colorscale=[[0, "#0000ff"], [.47, "#f6f6ff"], [.5, "#ffffff"], [.53, "#ffffe8"], [1, "#ffff00"]]))
fig.add_trace(go.Heatmap(z=[edge_scale], x=edge_scale, xaxis="x6", yaxis="y6", showscale=False, zmin=-1, zmax=1, zsmooth="best",
    colorscale=[[0, "#40f040"], [.47, "#f4fff4"], [.53, "#fff4f4"], [1, "#ff3030"]]))

def edge_trace(edges, col, w):
    xs, ys = [], []
    for a, bs in edges.items():
        for b in bs:
            xs += [nodes[a][0], nodes[b][0], None]
            ys += [nodes[a][1], nodes[b][1], None]
    fig.add_trace(go.Scatter(x=xs, y=ys, mode="lines", line=dict(color=col, width=w), xaxis="x7", yaxis="y7", showlegend=False))

edge_trace(grey_edges, "#cfc6c2", 1.6)
edge_trace(weak_pos_edges, "#eaa0a4", 1.6)
edge_trace(weak_neg_edges, "#b8e6b0", 1.6)
edge_trace(neg_edges, "#84ef84", 1.8)
edge_trace(pos_edges, "#f25868", 1.8)

mk_x, mk_y, mk_c = [], [], []
for group in (blue_mirna, yellow_mirna):
    for k, c in group.items():
        mk_x.append(nodes[M(k)][0]); mk_y.append(nodes[M(k)][1]); mk_c.append(c)
fig.add_trace(go.Scatter(x=mk_x, y=mk_y, mode="markers", xaxis="x7", yaxis="y7", showlegend=False,
                         marker=dict(symbol="triangle-down", size=11, color=mk_c, line_width=0)))

# legends of A and C
fig.add_trace(go.Scatter(x=[529, 529, 530], y=[522, 552, 579], mode="markers", xaxis="x7", yaxis="y7", showlegend=False,
                         marker=dict(size=11, color=[C_RED, C_GREEN, C_BLUE], opacity=.4, line_width=0)))
fig.add_trace(go.Scatter(x=[2133, 2133, 2133, 2133, 2133, 2133], y=[380, 403, 472, 495, 519, 542], mode="markers", xaxis="x7", yaxis="y7",
                         showlegend=False, marker=dict(color="black", line_width=0, size=[5, 7, 8.5, 13, 16.5, 18.5],
                                                       symbol=["circle", "triangle-up", "circle", "circle", "circle", "circle"])))

ann = []
def label(x, y, text, size=12.3, color="#111111", family=FONT, bg=None, anchor="center", pad=1, bold=False, textangle=0):
    d = dict(x=x, y=y, xref="x7", yref="y7", text=f"<b>{text}</b>" if bold else text, showarrow=False, xanchor=anchor, yanchor="middle",
             font=dict(size=size, color=color, family=family), textangle=textangle)
    if bg:
        d.update(bgcolor=bg, borderpad=pad, borderwidth=0)
    ann.append(d)

for name, (x, y) in nodes.items():
    if name.startswith("rno-"):
        label(x, y, name, bg="#80d4f4" if name == "rno-let-7" else None)
    else:
        bg = "#ffffff"
        if name in gene_strong: bg = "#c8c8f8"
        elif name in gene_mid: bg = "#e6e6fb"
        elif name in gene_yellow: bg = "#fdf8b8"
        elif name == "Naa60": bg = "#fff000"
        elif name == "Clcf1": bg = "#adadf2"
        label(x, y, name, bg=bg)

for text, x, y in [("A", 41, 55), ("B", 895, 54), ("C", 1577, 56), ("D", 36, 830)]:
    label(x, y, text, size=42, color="black", bold=True)
for text, y in zip(legend_volcano, [522, 552, 579]):
    label(540, y, text, size=14.5, family="Liberation Serif", anchor="left", color="#222")
label(427, 651, "log2 fold change", size=20.5, color="#111")
label(32, 344, "- log10 adjusted p-value", size=23.5, color="#111", textangle=-90)
for text, x in zip(samples, [961, 1022, 1080, 1133, 1186, 1235]):
    label(x, 726, text, size=13, family="Liberation Serif", color="#222")
for text, x, y in [("pvalue", 2122, 194), ("Type", 2122, 357), ("Count", 2122, 450)]:
    label(x, y, text, size=14.5, anchor="left", color="#222")
for text, y in zip(type_legend, [380, 403]):
    label(2147, y, text, size=12, anchor="left", color="#222")
for c, y in zip(count_legend, [472, 495, 519, 542]):
    label(2147, y, str(c), size=12, anchor="left", color="#222")
for text, x, y, s in [("Node color", 1273, 1366, 16.7), ("-6", 1320, 1391, 16), ("6", 1631, 1391, 16), ("Log2FC(ground/space)", 1457, 1403, 16.6),
                      ("Edge color", 1267, 1452, 16.7), ("-1", 1316, 1477, 16), ("1", 1628, 1477, 16), ("Pearson correlation value", 1490, 1488, 16.4),
                      ("miRNA", 1324, 1553, 17), ("Neuron proliferation gene", 1533, 1553, 16.8)]:
    label(x, y, text, size=s, color="#222")

shapes = [
    dict(type="path", xref="x7", yref="y7", path="M 1248 1530 L 1273 1543 L 1298 1530 L 1273 1570 Z", line=dict(color="black", width=4), fillcolor="white"),
    dict(type="path", xref="x7", yref="y7", path="M 1385 1534 L 1414 1534 Q 1420 1534 1420 1540 L 1420 1562 Q 1420 1568 1414 1568 L 1385 1568 Q 1379 1568 1379 1562 L 1379 1540 Q 1379 1534 1385 1534 Z", line=dict(color="black", width=4), fillcolor="white"),
]

fig.update_layout(
    width=W, height=H, margin=dict(l=0, r=0, t=0, b=0), autosize=False, paper_bgcolor="white", plot_bgcolor="rgba(0,0,0,0)",
    font=dict(family=FONT), showlegend=False, annotations=ann, shapes=shapes,
    xaxis=dict(domain=dx(98, 748), range=[-12.28, 11.91], tickvals=[-10, -5, 0, 5, 10], showgrid=False, zeroline=False, mirror=True, showline=True, linecolor="#333", linewidth=2,
               ticks="outside", ticklen=4, tickcolor="#333", tickfont=dict(size=17, color="#4d4d4d"), anchor="y"),
    yaxis=dict(domain=dy(87, 605), range=[-0.44, 9.45], tickvals=[0, 2.5, 5, 7.5], ticktext=["0.0", "2.5", "5.0", "7.5"], showgrid=False, zeroline=False, mirror=True, showline=True, linecolor="#333", linewidth=2,
               ticks="outside", ticklen=4, tickcolor="#333", tickfont=dict(size=17, color="#4d4d4d"), anchor="x"),
    xaxis2=dict(domain=dx(940.7, 1269.3), anchor="y2", showgrid=False, ticks="", showticklabels=False, type="category"),
    yaxis2=dict(domain=dy(28.7, 714), anchor="x2", side="right", showgrid=False, autorange="reversed", type="category", ticks="outside", ticklen=3, tickcolor="rgba(0,0,0,0)", tickfont=dict(size=13.3, color="#222"), dtick=1, tickmode="linear"),
    xaxis3=dict(domain=dx(847, 940.7), range=[210, 0], visible=False, anchor="y3"),
    yaxis3=dict(domain=dy(28.7, 714), range=[41.5, -0.5], visible=False, anchor="x3"),
    xaxis4=dict(domain=dx(1802, 2098), range=[0.0069, 0.05166], tickvals=[.01, .02, .03, .04, .05], ticktext=["0.01", "0.02", "0.03", "0.04", "0.05"], showgrid=False, zeroline=False, mirror=True, showline=True, linecolor="#555", linewidth=2,
                ticks="outside", ticklen=4, tickcolor="#444", tickfont=dict(size=12, color="#4d4d4d"), anchor="y4"),
    yaxis4=dict(domain=dy(23, 717.5), type="category", categoryorder="array", categoryarray=terms, range=[23.57, -0.65], showgrid=False, zeroline=False, mirror=True, showline=True, linecolor="#555", linewidth=2,
                ticks="outside", ticklen=4, tickcolor="#444", tickfont=dict(size=12.07, color="#4d4d4d"), tickmode="linear", dtick=1, anchor="x4"),
    xaxis5=dict(domain=dx(1318, 1640), range=[-6, 6], visible=False, anchor="y5"),
    yaxis5=dict(domain=dy(1353, 1380), visible=False, anchor="x5"),
    xaxis6=dict(domain=dx(1318, 1640), range=[-1, 1], visible=False, anchor="y6"),
    yaxis6=dict(domain=dy(1438, 1466), visible=False, anchor="x6"),
    xaxis7=dict(domain=[0, 1], range=[0, W], visible=False, anchor="y7", fixedrange=True),
    yaxis7=dict(domain=[0, 1], range=[H, 0], visible=False, anchor="x7", fixedrange=True),
)
fig.write_html("out.html", post_script="document.body.style.margin='0';", config={"displayModeBar": False})
